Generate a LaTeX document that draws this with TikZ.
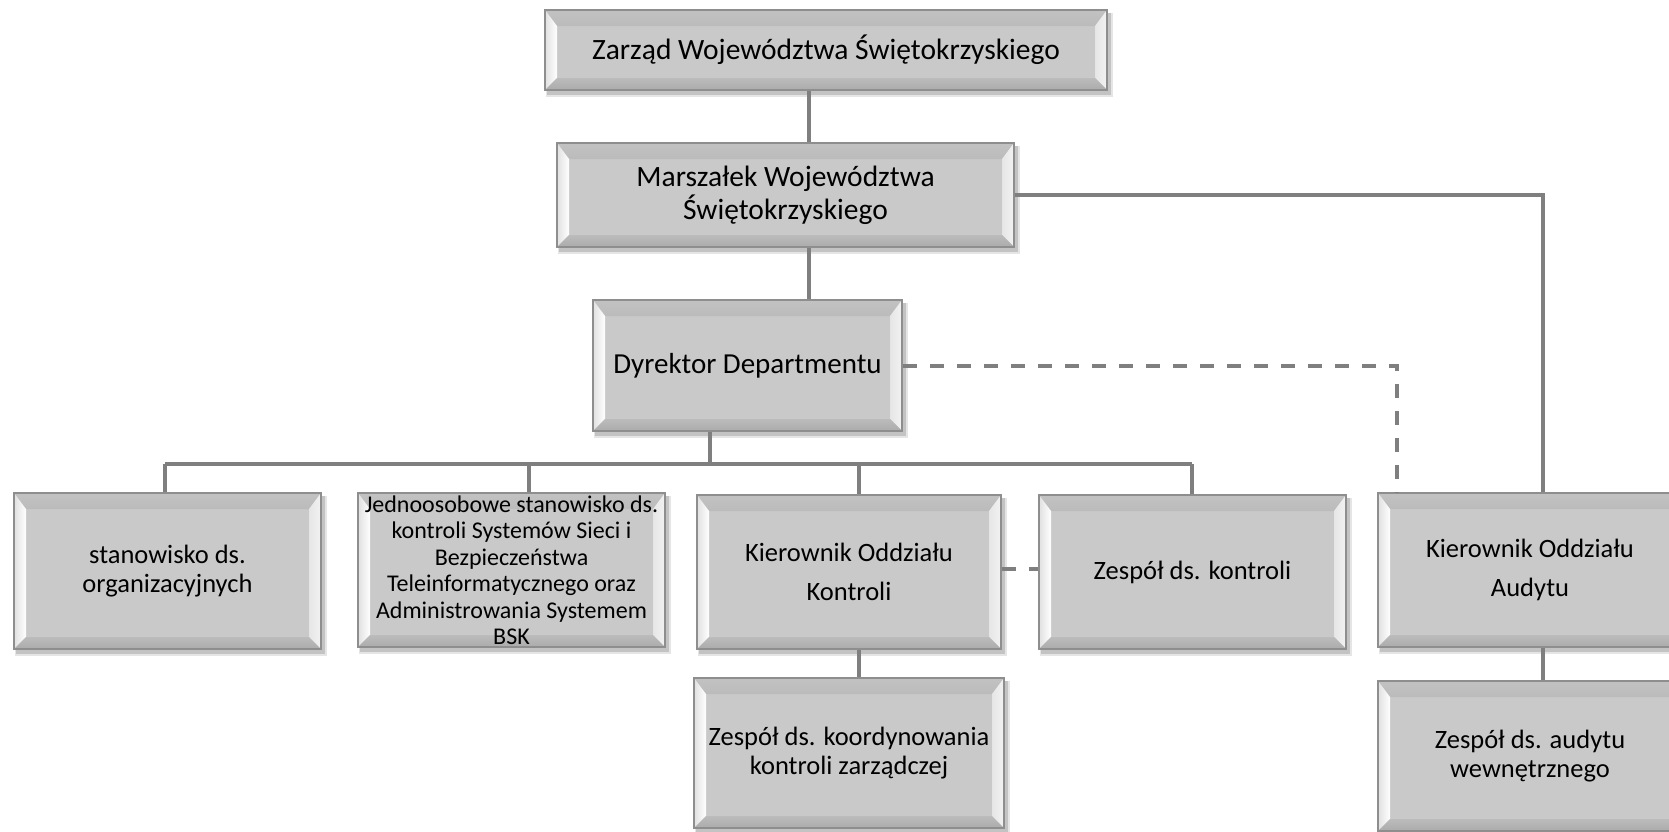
\documentclass[tikz,border=0pt]{standalone}
\usepackage{fontspec}
\setmainfont{Carlito}
\definecolor{face}{HTML}{C9C9C9}
\definecolor{outl}{HTML}{8E8E8E}
\definecolor{lnc}{HTML}{7F7F7F}
\definecolor{bvtop}{HTML}{BBBBBB}
\definecolor{bvbot}{HTML}{ABABAB}
\tikzset{
  bx/.style={draw=outl, line width=1.5, fill=none, inner sep=0, align=center},
  conn/.style={draw=lnc, line width=4},
  dconn/.style={draw=lnc, line width=4, dash pattern=on 14 off 13},
}
\def\bv{12}
\def\bt{16}
% name, cx, cy, w, h, font, text
\newcommand\bbox[7]{%
  \pgfmathsetmacro\xa{#2-#4/2}\pgfmathsetmacro\xb{#2+#4/2}%
  \pgfmathsetmacro\ya{#3-#5/2}\pgfmathsetmacro\yb{#3+#5/2}%
  \fill[black,opacity=.10] (\xa+1,\ya+3) rectangle (\xb+6,\yb+7);
  \fill[black,opacity=.15] (\xa+2,\ya+3) rectangle (\xb+4,\yb+5);
  \fill[face] (\xa,\ya) rectangle (\xb,\yb);
  \shade[top color=bvtop!90!white, bottom color=bvtop] (\xa,\ya) -- (\xb,\ya) -- (\xb-\bv,\ya+\bt) -- (\xa+\bv,\ya+\bt) -- cycle;
  \shade[left color=black!12, right color=white] (\xa,\ya) -- (\xa+\bv,\ya+\bt) -- (\xa+\bv,\yb-\bv) -- (\xa,\yb) -- cycle;
  \shade[left color=black!10, right color=white!95!black] (\xb,\ya) -- (\xb-\bv,\ya+\bt) -- (\xb-\bv,\yb-\bv) -- (\xb,\yb) -- cycle;
  \shade[top color=bvbot!80!white, bottom color=bvbot] (\xa,\yb) -- (\xa+\bv,\yb-\bv) -- (\xb-\bv,\yb-\bv) -- (\xb,\yb) -- cycle;
  \node[bx, minimum width=#4, minimum height=#5, font=#6] (#1) at (#2,#3) {#7};
}
\begin{document}
\begin{tikzpicture}[x=1pt,y=-1pt]
\useasboundingbox (0,0) rectangle (1669,831);
\clip (0,0) rectangle (1669,831);

\bbox{zarzad}{826}{50}{562}{80}{\fontsize{29.5}{34}\selectfont}{Zarząd Województwa Świętokrzyskiego}
\bbox{marsz}{785.5}{195}{457}{104}{\fontsize{29.5}{33}\selectfont}{Marszałek Województwa\\Świętokrzyskiego}
\bbox{dyr}{747.5}{365.5}{309}{131}{\fontsize{29}{34}\selectfont}{Dyrektor Departmentu}

\bbox{stan}{167.5}{571}{307}{156}{\fontsize{26.5}{29}\selectfont}{stanowisko ds.\\organizacyjnych}
\bbox{jedn}{511.5}{570}{307}{154}{\fontsize{24}{26.5}\selectfont}{Jednoosobowe stanowisko ds.\\kontroli Systemów Sieci i\\Bezpieczeństwa\\Teleinformatycznego oraz\\Administrowania Systemem\\BSK}
\bbox{kkon}{849}{572}{304}{154}{\fontsize{26.5}{39}\selectfont}{Kierownik Oddziału\\Kontroli}
\bbox{zkon}{1192.5}{572}{307}{154}{\fontsize{26.5}{30}\selectfont}{Zespół ds. kontroli}
\bbox{kaud}{1530}{570}{304}{154}{\fontsize{26.5}{39}\selectfont}{Kierownik Oddziału\\Audytu}
\bbox{zkoord}{849}{753}{310}{150}{\fontsize{26.5}{29}\selectfont}{Zespół ds. koordynowania\\kontroli zarządczej}
\bbox{zaud}{1530}{756}{304}{150}{\fontsize{26.5}{29}\selectfont}{Zespół ds. audytu\\wewnętrznego}

% connectors
\coordinate (trunk) at (809,0);
\draw[conn] (zarzad.south -| trunk) -- (marsz.north -| trunk);
\draw[conn] (marsz.south -| trunk) -- (dyr.north -| trunk);
\coordinate (audx) at ([xshift=13]kaud.north);
\draw[conn] (marsz.east) -| (audx);
\coordinate (dashx) at ([xshift=20]kaud.north west);
\draw[dconn] (dyr.east) -| (dashx);

\coordinate (busL) at (165,464);
\coordinate (busR) at (1192,464);
\coordinate (dyrdrop) at (710,0);
\coordinate (b2) at (529,0);
\coordinate (b3) at (859,0);
\draw[conn] (busL) -- (busR);
\draw[conn] (dyr.south -| dyrdrop) -- (busL -| dyrdrop);
\draw[conn] (busL) -- (busL |- stan.north);
\draw[conn] (busL -| b2) -- (jedn.north -| b2);
\draw[conn] (busL -| b3) -- (kkon.north -| b3);
\draw[conn] (busR) -- (busR |- zkon.north);
\draw[conn] (kkon.south -| b3) -- (zkoord.north -| b3);
\draw[conn] (kaud.south -| audx) -- (zaud.north -| audx);
\draw[dconn] ([yshift=3]kkon.east) -- ([yshift=3]zkon.west);
\end{tikzpicture}
\end{document}
